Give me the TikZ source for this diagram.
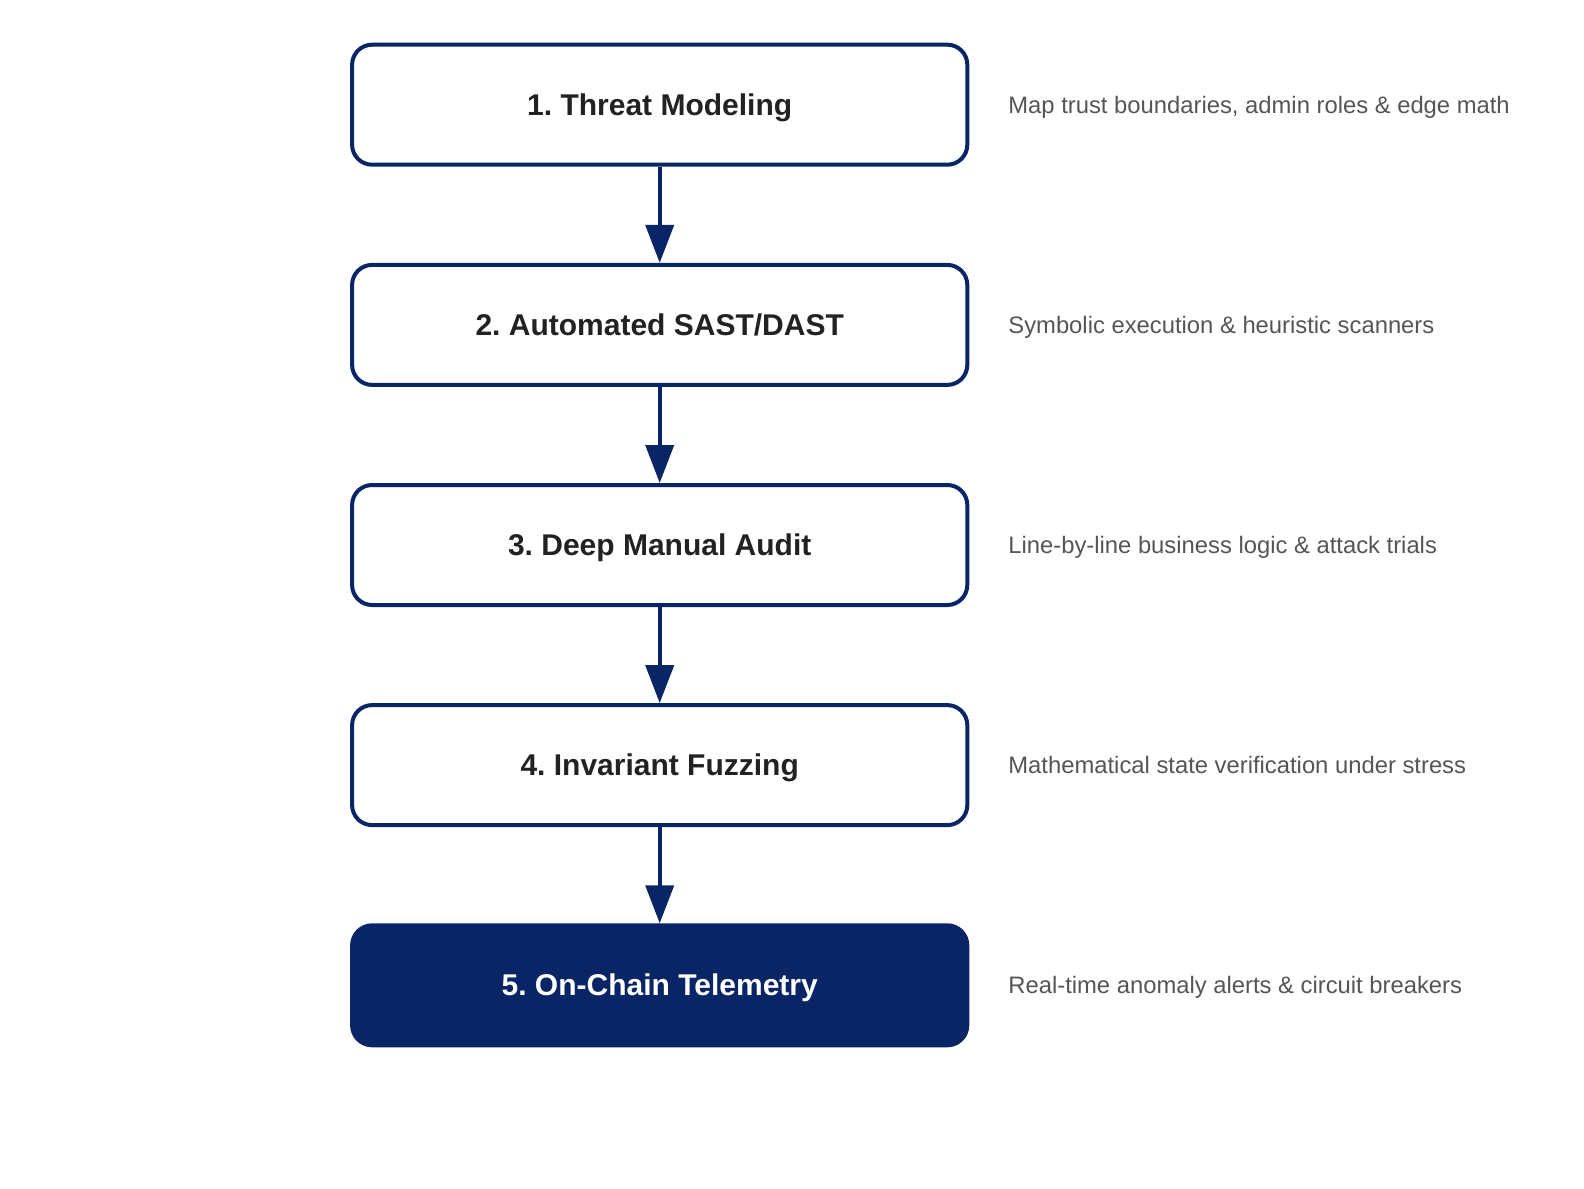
\documentclass[tikz,border=0pt]{standalone}
\usepackage{fontspec}
\setmainfont{Liberation Sans}
\usepackage{tikz,pgffor}
\usetikzlibrary{arrows.meta}
\definecolor{navy}{HTML}{0A2566}
\definecolor{notegray}{HTML}{555555}
\definecolor{inkdark}{HTML}{222222}
\frenchspacing
\begin{document}
\begin{tikzpicture}[x=0.5pt,y=-0.5pt,
stage/.style={draw=navy, line width=2pt, fill=white, rounded corners=10pt,
  minimum width=307.6pt, minimum height=60pt, inner sep=0pt,
  text height=10.6pt, text depth=0pt,
  font=\fontsize{15}{18}\selectfont\bfseries, text=inkdark},
laststage/.style={stage, fill=navy, text=white},
note/.style={anchor=west, inner sep=0pt, text height=8.6pt, text depth=0pt,
  font=\fontsize{11.9}{14}\selectfont, text=notegray},
flow/.style={draw=navy, line width=2pt, -{Triangle[length=19pt,width=14pt]}}]
\useasboundingbox (0,0) rectangle (1584,1188);

%%%%%%%%%%%%%%%%%%%%%%%%%%%%
\node[stage] (threat) at (659.7,104.7) {1. Threat Modeling};
\node[stage] (sast) at (659.7,324.9) {2. Automated SAST/DAST};
\node[stage] (manual) at (659.7,545) {3. Deep Manual Audit};
\node[stage] (fuzz) at (659.7,765.1) {4. Invariant Fuzzing};
\node[laststage] (chain) at (659.7,985.3) {5. On-Chain Telemetry};

%%%%%%%%%%%%%%%%%%%%%%%%%%%%
\node[note] (threatnote) at (1008,104.7) {Map trust boundaries, admin roles \& edge math};
\node[note] (sastnote) at (1008,324.9) {Symbolic execution \& heuristic scanners};
\node[note] (manualnote) at (1008,545) {Line-by-line business logic \& attack trials};
\node[note] (fuzznote) at (1008,765.1) {Mathematical state verification under stress};
\node[note] (chainnote) at (1008,985.3) {Real-time anomaly alerts \& circuit breakers};

%%%%%%%%%%%%%%%%%%%%%%%%%%%%
\draw[flow] (threat) -- (sast);
\draw[flow] (sast) -- (manual);
\draw[flow] (manual) -- (fuzz);
\draw[flow] (fuzz) -- (chain);
\end{tikzpicture}
\end{document}
